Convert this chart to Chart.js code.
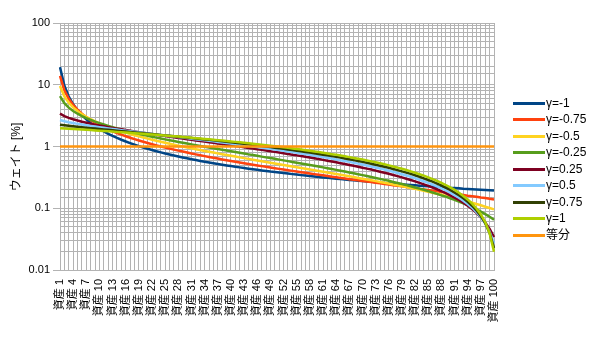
<!DOCTYPE html>
<html>
<head>
<meta charset="utf-8">
<script src="https://cdn.jsdelivr.net/npm/chart.js@4.4.1/dist/chart.umd.min.js"></script>
<style>
  html, body { margin: 0; padding: 0; background: #fff; }
</style>
</head>
<body>
<canvas id="chart" width="600" height="337"></canvas>
<script>
const FONT = "'Liberation Sans', 'Noto Sans CJK JP', sans-serif";

// categories: 資産 1 .. 資産 100
const assetNames = Array.from({ length: 100 }, (_, i) => '資産 ' + (i + 1));
const yTickLabels = ['0.01', '0.1', '1', '10', '100'];

const seriesNames = ['γ=-1', 'γ=-0.75', 'γ=-0.5', 'γ=-0.25', 'γ=0.25', 'γ=0.5', 'γ=0.75', 'γ=1', '等分'];
const seriesColors = ['#004586', '#ff420e', '#ffd320', '#579d1c', '#7e0021', '#83caff', '#314004', '#aecf00', '#ff950e'];

// weights [%]
const wGm100 = [19.28, 9.64, 6.427, 4.82, 3.856, 3.213, 2.754, 2.41, 2.142, 1.928,
  1.753, 1.607, 1.483, 1.377, 1.285, 1.205, 1.134, 1.071, 1.015, 0.964,
  0.918, 0.876, 0.838, 0.803, 0.771, 0.742, 0.714, 0.689, 0.665, 0.643,
  0.622, 0.603, 0.584, 0.567, 0.551, 0.536, 0.521, 0.507, 0.494, 0.482,
  0.470, 0.459, 0.448, 0.438, 0.428, 0.419, 0.410, 0.402, 0.393, 0.386,
  0.378, 0.371, 0.364, 0.357, 0.351, 0.344, 0.338, 0.332, 0.327, 0.321,
  0.316, 0.311, 0.306, 0.301, 0.297, 0.292, 0.288, 0.284, 0.279, 0.275,
  0.272, 0.268, 0.264, 0.261, 0.257, 0.254, 0.250, 0.247, 0.244, 0.241,
  0.238, 0.235, 0.232, 0.230, 0.227, 0.224, 0.222, 0.219, 0.217, 0.214,
  0.212, 0.210, 0.207, 0.205, 0.203, 0.201, 0.199, 0.197, 0.195, 0.193];

const wGm075 = [13.90, 8.138, 5.923, 4.713, 3.939, 3.396, 2.991, 2.677, 2.424, 2.216,
  2.042, 1.893, 1.765, 1.653, 1.554, 1.466, 1.387, 1.316, 1.251, 1.192,
  1.138, 1.088, 1.043, 1.000, 0.961, 0.924, 0.889, 0.857, 0.827, 0.798,
  0.771, 0.746, 0.722, 0.699, 0.677, 0.656, 0.637, 0.618, 0.600, 0.583,
  0.567, 0.551, 0.536, 0.521, 0.507, 0.494, 0.481, 0.469, 0.457, 0.445,
  0.434, 0.423, 0.413, 0.403, 0.393, 0.384, 0.375, 0.366, 0.357, 0.349,
  0.341, 0.333, 0.325, 0.318, 0.310, 0.303, 0.296, 0.290, 0.283, 0.277,
  0.271, 0.265, 0.259, 0.253, 0.247, 0.242, 0.236, 0.231, 0.226, 0.221,
  0.216, 0.211, 0.206, 0.202, 0.197, 0.193, 0.188, 0.184, 0.180, 0.176,
  0.172, 0.168, 0.164, 0.160, 0.157, 0.153, 0.149, 0.146, 0.142, 0.139];

const wGm050 = [9.571, 6.487, 5.121, 4.307, 3.751, 3.341, 3.022, 2.765, 2.552, 2.372,
  2.217, 2.082, 1.963, 1.857, 1.761, 1.675, 1.596, 1.524, 1.458, 1.397,
  1.340, 1.287, 1.238, 1.192, 1.148, 1.108, 1.069, 1.032, 0.998, 0.965,
  0.934, 0.904, 0.876, 0.848, 0.822, 0.798, 0.774, 0.751, 0.729, 0.708,
  0.687, 0.667, 0.648, 0.630, 0.612, 0.595, 0.579, 0.562, 0.547, 0.532,
  0.517, 0.503, 0.489, 0.476, 0.462, 0.450, 0.437, 0.425, 0.414, 0.402,
  0.391, 0.380, 0.369, 0.359, 0.349, 0.339, 0.329, 0.320, 0.310, 0.301,
  0.292, 0.284, 0.275, 0.267, 0.259, 0.251, 0.243, 0.235, 0.227, 0.220,
  0.213, 0.206, 0.199, 0.192, 0.185, 0.178, 0.172, 0.165, 0.159, 0.153,
  0.147, 0.141, 0.135, 0.129, 0.123, 0.117, 0.112, 0.106, 0.101, 0.0957];

const wGm025 = [6.530, 5.026, 4.260, 3.761, 3.398, 3.117, 2.888, 2.697, 2.534, 2.392,
  2.267, 2.155, 2.055, 1.963, 1.880, 1.803, 1.732, 1.666, 1.604, 1.546,
  1.492, 1.441, 1.393, 1.347, 1.304, 1.263, 1.223, 1.186, 1.150, 1.115,
  1.082, 1.051, 1.020, 0.991, 0.963, 0.935, 0.909, 0.884, 0.859, 0.835,
  0.812, 0.789, 0.768, 0.746, 0.726, 0.706, 0.686, 0.667, 0.649, 0.631,
  0.613, 0.596, 0.580, 0.563, 0.547, 0.532, 0.516, 0.502, 0.487, 0.473,
  0.459, 0.445, 0.431, 0.418, 0.405, 0.393, 0.380, 0.368, 0.356, 0.344,
  0.333, 0.321, 0.310, 0.299, 0.288, 0.278, 0.267, 0.257, 0.247, 0.237,
  0.227, 0.217, 0.208, 0.199, 0.189, 0.180, 0.171, 0.162, 0.154, 0.145,
  0.137, 0.128, 0.120, 0.112, 0.104, 0.0960, 0.0882, 0.0804, 0.0728, 0.0653];

const wGp025 = [3.403, 3.108, 2.911, 2.758, 2.631, 2.523, 2.427, 2.341, 2.262, 2.190,
  2.124, 2.061, 2.003, 1.947, 1.895, 1.845, 1.797, 1.752, 1.708, 1.666,
  1.626, 1.587, 1.549, 1.513, 1.477, 1.443, 1.409, 1.377, 1.345, 1.315,
  1.285, 1.255, 1.227, 1.199, 1.171, 1.145, 1.118, 1.093, 1.067, 1.043,
  1.018, 0.995, 0.971, 0.948, 0.926, 0.903, 0.882, 0.860, 0.839, 0.818,
  0.797, 0.777, 0.757, 0.737, 0.718, 0.699, 0.680, 0.661, 0.643, 0.625,
  0.607, 0.589, 0.572, 0.554, 0.537, 0.520, 0.503, 0.487, 0.471, 0.454,
  0.438, 0.423, 0.407, 0.391, 0.376, 0.361, 0.346, 0.331, 0.316, 0.301,
  0.287, 0.273, 0.258, 0.244, 0.230, 0.216, 0.203, 0.189, 0.176, 0.162,
  0.149, 0.136, 0.123, 0.110, 0.0968, 0.0841, 0.0714, 0.0588, 0.0464, 0.0340];

const wGp050 = [2.693, 2.570, 2.476, 2.396, 2.326, 2.263, 2.205, 2.151, 2.100, 2.052,
  2.006, 1.963, 1.921, 1.881, 1.842, 1.804, 1.768, 1.732, 1.698, 1.664,
  1.631, 1.600, 1.568, 1.538, 1.508, 1.479, 1.450, 1.422, 1.394, 1.367,
  1.340, 1.313, 1.287, 1.262, 1.237, 1.212, 1.187, 1.163, 1.139, 1.116,
  1.092, 1.069, 1.047, 1.024, 1.002, 0.980, 0.958, 0.937, 0.915, 0.894,
  0.874, 0.853, 0.833, 0.812, 0.792, 0.772, 0.753, 0.733, 0.714, 0.695,
  0.675, 0.657, 0.638, 0.619, 0.601, 0.583, 0.564, 0.546, 0.528, 0.511,
  0.493, 0.476, 0.458, 0.441, 0.424, 0.407, 0.390, 0.373, 0.356, 0.340,
  0.323, 0.307, 0.290, 0.274, 0.258, 0.242, 0.226, 0.210, 0.195, 0.179,
  0.163, 0.148, 0.132, 0.117, 0.102, 0.0868, 0.0717, 0.0567, 0.0418, 0.0269];

const wGp075 = [2.257, 2.207, 2.164, 2.124, 2.086, 2.050, 2.016, 1.983, 1.951, 1.920,
  1.889, 1.860, 1.830, 1.802, 1.774, 1.746, 1.719, 1.692, 1.666, 1.640,
  1.614, 1.589, 1.564, 1.539, 1.514, 1.490, 1.466, 1.442, 1.418, 1.395,
  1.371, 1.348, 1.325, 1.303, 1.280, 1.258, 1.235, 1.213, 1.191, 1.169,
  1.148, 1.126, 1.105, 1.083, 1.062, 1.041, 1.020, 0.999, 0.979, 0.958,
  0.937, 0.917, 0.897, 0.876, 0.856, 0.836, 0.816, 0.796, 0.777, 0.757,
  0.737, 0.718, 0.698, 0.679, 0.660, 0.640, 0.621, 0.602, 0.583, 0.564,
  0.545, 0.526, 0.508, 0.489, 0.470, 0.452, 0.433, 0.415, 0.396, 0.378,
  0.360, 0.342, 0.324, 0.305, 0.287, 0.269, 0.251, 0.234, 0.216, 0.198,
  0.180, 0.162, 0.145, 0.127, 0.110, 0.0921, 0.0747, 0.0573, 0.0399, 0.0226];

const wGp100 = [1.980, 1.960, 1.941, 1.921, 1.901, 1.881, 1.861, 1.842, 1.822, 1.802,
  1.782, 1.762, 1.743, 1.723, 1.703, 1.683, 1.663, 1.644, 1.624, 1.604,
  1.584, 1.564, 1.545, 1.525, 1.505, 1.485, 1.465, 1.446, 1.426, 1.406,
  1.386, 1.366, 1.347, 1.327, 1.307, 1.287, 1.267, 1.248, 1.228, 1.208,
  1.188, 1.168, 1.149, 1.129, 1.109, 1.089, 1.069, 1.050, 1.030, 1.010,
  0.990, 0.970, 0.950, 0.931, 0.911, 0.891, 0.871, 0.851, 0.832, 0.812,
  0.792, 0.772, 0.752, 0.733, 0.713, 0.693, 0.673, 0.653, 0.634, 0.614,
  0.594, 0.574, 0.554, 0.535, 0.515, 0.495, 0.475, 0.455, 0.436, 0.416,
  0.396, 0.376, 0.356, 0.337, 0.317, 0.297, 0.277, 0.257, 0.238, 0.218,
  0.198, 0.178, 0.158, 0.139, 0.119, 0.0990, 0.0792, 0.0594, 0.0396, 0.0198];

const wEqual = assetNames.map(() => 1);

const seriesValues = [wGm100, wGm075, wGm050, wGm025, wGp025, wGp050, wGp075, wGp100, wEqual];

const isDecade = v => Math.abs(Math.log10(v) - Math.round(Math.log10(v))) < 1e-6;

// y title and legend, drawn on the canvas
const extras = {
  id: 'extras',
  afterDraw(chart) {
    const c = chart.ctx;
    c.save();
    c.fillStyle = '#000';
    c.font = '12px ' + FONT;
    c.textAlign = 'center';
    c.textBaseline = 'middle';
    c.translate(17, 157);
    c.rotate(-Math.PI / 2);
    c.fillText('ウェイト [%]', 0, 0);
    c.restore();

    c.save();
    c.font = '12px ' + FONT;
    c.textAlign = 'left';
    c.textBaseline = 'middle';
    chart.data.datasets.forEach((ds, k) => {
      const y = Math.round(103 + k * 16.45) + 0.5;
      c.strokeStyle = ds.borderColor;
      c.lineWidth = 3;
      c.beginPath();
      c.moveTo(513, y);
      c.lineTo(545, y);
      c.stroke();
      c.fillStyle = '#000';
      c.fillText(ds.label, 546, y + 0.5);
    });
    c.restore();
  }
};

new Chart(document.getElementById('chart'), {
  type: 'line',
  data: {
    labels: assetNames,
    datasets: seriesValues.map((vals, k) => ({
      label: seriesNames[k],
      data: vals,
      borderColor: seriesColors[k],
      backgroundColor: seriesColors[k],
      borderWidth: 2.5,
      pointRadius: 0,
      tension: 0,
      fill: false,
      order: seriesValues.length - k
    }))
  },
  options: {
    responsive: false,
    animation: false,
    layout: { padding: { top: 23, right: 106, left: 0, bottom: 0 } },
    plugins: { legend: { display: false }, tooltip: { enabled: false } },
    scales: {
      x: {
        type: 'category',
        offset: false,
        grid: { color: '#b3b3b3', drawTicks: false, offset: false },
        border: { color: '#b3b3b3' },
        ticks: {
          autoSkip: false,
          minRotation: 90,
          maxRotation: 90,
          padding: 9,
          color: '#000',
          font: { size: 11, family: FONT },
          callback: (v, i) => (i % 3 === 0 ? assetNames[i] : '')
        },
        afterFit: s => { s.height = 67; }
      },
      y: {
        type: 'logarithmic',
        min: 0.01,
        max: 100,
        grid: {
          color: '#b3b3b3',
          tickLength: 7,
          tickColor: ctx => (ctx.tick && isDecade(ctx.tick.value) ? '#b3b3b3' : 'rgba(0,0,0,0)')
        },
        border: { color: '#b3b3b3' },
        ticks: {
          autoSkip: false,
          padding: 3,
          color: '#000',
          font: { size: 11, family: FONT },
          callback: v => (isDecade(v) ? yTickLabels[Math.round(Math.log10(v)) + 2] : '')
        },
        afterFit: s => { s.width = 60; }
      }
    }
  },
  plugins: [extras]
});
</script>
</body>
</html>
